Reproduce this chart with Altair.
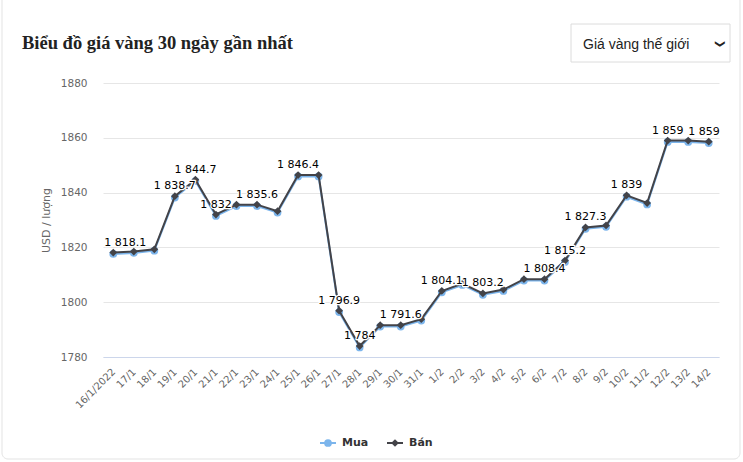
import altair as alt
import pandas as pd

# ---- data ----
ngay = ["16/1/2022", "17/1", "18/1", "19/1", "20/1", "21/1", "22/1", "23/1", "24/1", "25/1",
        "26/1", "27/1", "28/1", "29/1", "30/1", "31/1", "1/2", "2/2", "3/2", "4/2",
        "5/2", "6/2", "7/2", "8/2", "9/2", "10/2", "11/2", "12/2", "13/2", "14/2"]
gia_ban = [1818.1, 1818.5, 1819.3, 1838.7, 1844.7, 1832.0, 1835.6, 1835.6, 1833.2, 1846.4,
           1846.4, 1796.9, 1784.0, 1791.6, 1791.6, 1793.8, 1804.1, 1806.8, 1803.2, 1804.6,
           1808.4, 1808.4, 1815.2, 1827.3, 1828.0, 1839.0, 1836.2, 1859.0, 1859.0, 1858.6]
gia_mua = [1817.6, 1818.0, 1818.8, 1838.2, 1844.2, 1831.5, 1835.1, 1835.1, 1832.7, 1845.9,
           1845.9, 1796.4, 1783.5, 1791.1, 1791.1, 1793.3, 1803.6, 1806.3, 1802.7, 1804.1,
           1807.9, 1807.9, 1814.7, 1826.8, 1827.5, 1838.5, 1835.7, 1858.5, 1858.5, 1858.1]
nhan = ["1 818.1", "", "", "1 838.7", "1 844.7", "1 832", "", "1 835.6", "", "1 846.4",
        "", "1 796.9", "1 784", "", "1 791.6", "", "1 804.1", "", "1 803.2", "",
        "", "1 808.4", "1 815.2", "1 827.3", "", "1 839", "", "1 859", "", "1 859"]
y_ticks = [1780, 1800, 1820, 1840, 1860, 1880]

df = pd.DataFrame({"ngay": ngay, "ban": gia_ban, "mua": gia_mua, "nhan": nhan,
                   "idx": list(range(len(ngay)))})

FONT = "DejaVu Sans"
C_MUA = "#7cb5ec"
C_BAN = "#434348"

base = alt.Chart(df)
x_enc = alt.X("ngay:N", sort=ngay, scale=alt.Scale(type="point", padding=0.5),
              axis=alt.Axis(title=None, labelAngle=-45, labelAlign="right", labelBaseline="middle",
                            labelPadding=13, labelColor="#666666", labelFontSize=10, labelFont=FONT,
                            ticks=False, domainColor="#ccd6eb", domainWidth=1, grid=False,
                            labelOverlap=False))
y_scale = alt.Scale(domain=[1780, 1880], nice=False, zero=False)
y_axis = alt.Axis(values=y_ticks, format="d", title="USD / lượng", domain=False, ticks=False,
                  gridColor="#e6e6e6", labelColor="#666666", labelFontSize=10.5,
                  labelFont=FONT, labelPadding=16, titleColor="#666666",
                  titleFontSize=11, titleFontWeight="normal", titleFont=FONT,
                  titlePadding=9)
y_ban = alt.Y("ban:Q", scale=y_scale, axis=y_axis)
y_mua = alt.Y("mua:Q", scale=y_scale, axis=y_axis)

line_mua = base.mark_line(color=C_MUA, strokeWidth=2).encode(x=x_enc, y=y_mua)
pts_mua = base.mark_point(shape="circle", filled=True, size=60, color=C_MUA, opacity=1).encode(x=x_enc, y=y_mua)
line_ban = base.mark_line(color=C_BAN, strokeWidth=2).encode(x=x_enc, y=y_ban)
pts_ban = base.mark_point(shape="diamond", filled=True, size=60, color=C_BAN, opacity=1).encode(x=x_enc, y=y_ban)


def label_layers(filt, align, dx):
    outline = base.transform_filter(filt).mark_text(
        align=align, baseline="alphabetic", dx=dx, dy=-7, font=FONT, fontSize=11,
        stroke="white", strokeWidth=2.5, color="white", strokeJoin="round"
    ).encode(x=x_enc, y=y_ban, text="nhan:N")
    fill = base.transform_filter(filt).mark_text(
        align=align, baseline="alphabetic", dx=dx, dy=-7, font=FONT, fontSize=11, color="#000000"
    ).encode(x=x_enc, y=y_ban, text="nhan:N")
    return [outline, fill]


last = len(ngay) - 1
labels = (label_layers(f"datum.nhan != '' && datum.idx > 0 && datum.idx < {last}", "center", 0)
          + label_layers("datum.nhan != '' && datum.idx == 0", "left", -9)
          + label_layers(f"datum.nhan != '' && datum.idx == {last}", "right", 11))

dummy = alt.Chart(pd.DataFrame({"a": [0]}))

card = dummy.mark_rect(filled=False, stroke="#e3e3e3", strokeWidth=1, cornerRadius=6).encode(
    x=alt.value(-101), x2=alt.value(637), y=alt.value(-95), y2=alt.value(376))
title = dummy.mark_text(text="Biểu đồ giá vàng 30 ngày gần nhất", align="left", baseline="alphabetic",
                        font="Liberation Serif", fontSize=18.5, fontWeight="bold", color="#222222").encode(
    x=alt.value(-81), y=alt.value(-34))
box = dummy.mark_rect(fill="white", stroke="#dcdcdc", strokeWidth=1).encode(
    x=alt.value(468), x2=alt.value(627), y=alt.value(-59), y2=alt.value(-21))
box_text = dummy.mark_text(text="Giá vàng thế giới", align="left", baseline="alphabetic",
                           font="Liberation Sans", fontSize=14, color="#222222").encode(
    x=alt.value(480), y=alt.value(-34))
chevron = dummy.mark_text(text="❯", align="center", baseline="middle", angle=90,
                          font=FONT, fontSize=10, fontWeight="bold", color="#222222").encode(
    x=alt.value(617), y=alt.value(-39))

# legend
leg_mua_line = dummy.mark_rule(color=C_MUA, strokeWidth=2).encode(
    x=alt.value(217), x2=alt.value(233), y=alt.value(360))
leg_mua_pt = dummy.mark_point(shape="circle", filled=True, size=60, color=C_MUA, opacity=1).encode(
    x=alt.value(225), y=alt.value(360))
leg_mua_txt = dummy.mark_text(text="Mua", align="left", baseline="middle", font=FONT, fontSize=11,
                              fontWeight="bold", color="#333333").encode(x=alt.value(239), y=alt.value(360))
leg_ban_line = dummy.mark_rule(color=C_BAN, strokeWidth=2).encode(
    x=alt.value(284), x2=alt.value(300), y=alt.value(360))
leg_ban_pt = dummy.mark_point(shape="diamond", filled=True, size=60, color=C_BAN, opacity=1).encode(
    x=alt.value(292), y=alt.value(360))
leg_ban_txt = dummy.mark_text(text="Bán", align="left", baseline="middle", font=FONT, fontSize=11,
                              fontWeight="bold", color="#333333").encode(x=alt.value(306), y=alt.value(360))

chart = alt.layer(
    card, line_mua, pts_mua, line_ban, pts_ban, *labels,
    title, box, box_text, chevron,
    leg_mua_line, leg_mua_pt, leg_mua_txt, leg_ban_line, leg_ban_pt, leg_ban_txt
).properties(
    width=616, height=274,
    padding={"left": 103, "top": 83, "right": 24, "bottom": 105},
    autosize=alt.AutoSizeParams(type="none"),
    background="white"
).configure_view(stroke=None)

chart.save("out.html", embed_options={"renderer": "svg", "actions": False})
